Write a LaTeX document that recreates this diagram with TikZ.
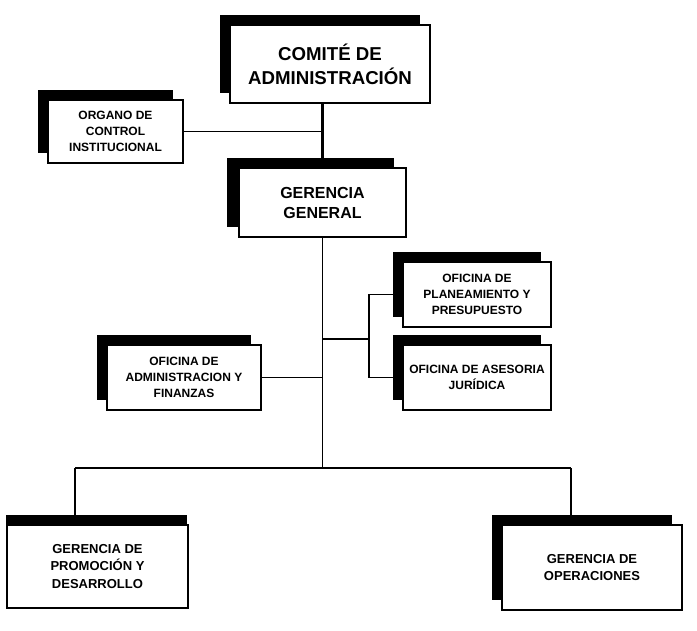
\documentclass[tikz,border=0pt]{standalone}
\usepackage{fontspec}
\setmainfont{Liberation Sans}
\usepackage{tikz}
\usetikzlibrary{shadows}
\pgfdeclarelayer{edgelayer}
\pgfdeclarelayer{nodelayer}
\pgfsetlayers{edgelayer,nodelayer,main}
\tikzset{
	box/.style={draw, fill=white, line width=1.2pt, align=center, inner sep=0pt,
		drop shadow={shadow xshift=#1, shadow yshift=7.5pt, fill=black, opacity=1}},
	box/.default=-7.5pt,
	topbox/.style={box=#1, font=\fontsize{14}{18}\selectfont\bfseries},
	topbox/.default=-7.5pt,
	midbox/.style={box=#1, font=\fontsize{12}{15}\selectfont\bfseries},
	midbox/.default=-7.5pt,
	smallbox/.style={box=#1, font=\fontsize{9}{12}\selectfont\bfseries},
	smallbox/.default=-7.5pt,
	lowbox/.style={box=#1, font=\fontsize{9.75}{13}\selectfont\bfseries},
	lowbox/.default=-7.5pt,
	link/.style={line width=1.1pt},
}
\begin{document}
\begin{tikzpicture}[x=0.75pt, y=-0.75pt]
	\useasboundingbox (0, 0) rectangle (697, 631);
	\begin{pgfonlayer}{nodelayer}
		\node [style=topbox, minimum width=150pt, minimum height=58.5pt] (0) at (330, 64) {COMITÉ DE\\ADMINISTRACIÓN};
		\node [style=smallbox, minimum width=101.25pt, minimum height=47.25pt] (1) at (115.5, 131.5) {ORGANO DE\\CONTROL\\INSTITUCIONAL};
		\node [style={midbox=-9pt}, minimum width=125.25pt, minimum height=51.75pt] (2) at (322.5, 202.5) {GERENCIA\\GENERAL};
		\node [style=smallbox, minimum width=111pt, minimum height=48.75pt] (3) at (477, 294.5) {OFICINA DE\\PLANEAMIENTO Y\\PRESUPUESTO};
		\node [style=smallbox, minimum width=111pt, minimum height=48.75pt] (4) at (477, 377.5) {OFICINA DE ASESORIA\\JURÍDICA};
		\node [style=smallbox, minimum width=115.5pt, minimum height=48.75pt] (5) at (184, 377.5) {OFICINA DE\\ADMINISTRACION Y\\FINANZAS};
		\node [style={lowbox=-0.75pt}, minimum width=135.75pt, minimum height=62.25pt] (6) at (97.5, 566.5) {GERENCIA DE\\PROMOCIÓN Y\\DESARROLLO};
		\node [style=lowbox, minimum width=135pt, minimum height=63.75pt] (7) at (592, 567.5) {GERENCIA DE\\OPERACIONES};
		\coordinate (8) at (75, 468);
		\coordinate (9) at (571, 468);
		\coordinate (10) at (369, 339);
	\end{pgfonlayer}
	\begin{pgfonlayer}{edgelayer}
		\draw [line width=2.2pt] (0.center -| 2.center) to (2.center);
		\draw [line width=0.9pt] (1.center) to (1.center -| 2.center);
		\draw [style=link] (2.center) to (2.center |- 8);
		\draw [style=link] (5.center) to (5.center -| 2.center);
		\draw [style=link] (2.center |- 10) to (10);
		\draw [style=link] (3.center) -| (10) |- (4.center);
		\draw [style=link] (8) to (9);
		\draw [style=link] (8) to (8 |- 6.center);
		\draw [style=link] (9) to (9 |- 7.center);
	\end{pgfonlayer}
\end{tikzpicture}
\end{document}
